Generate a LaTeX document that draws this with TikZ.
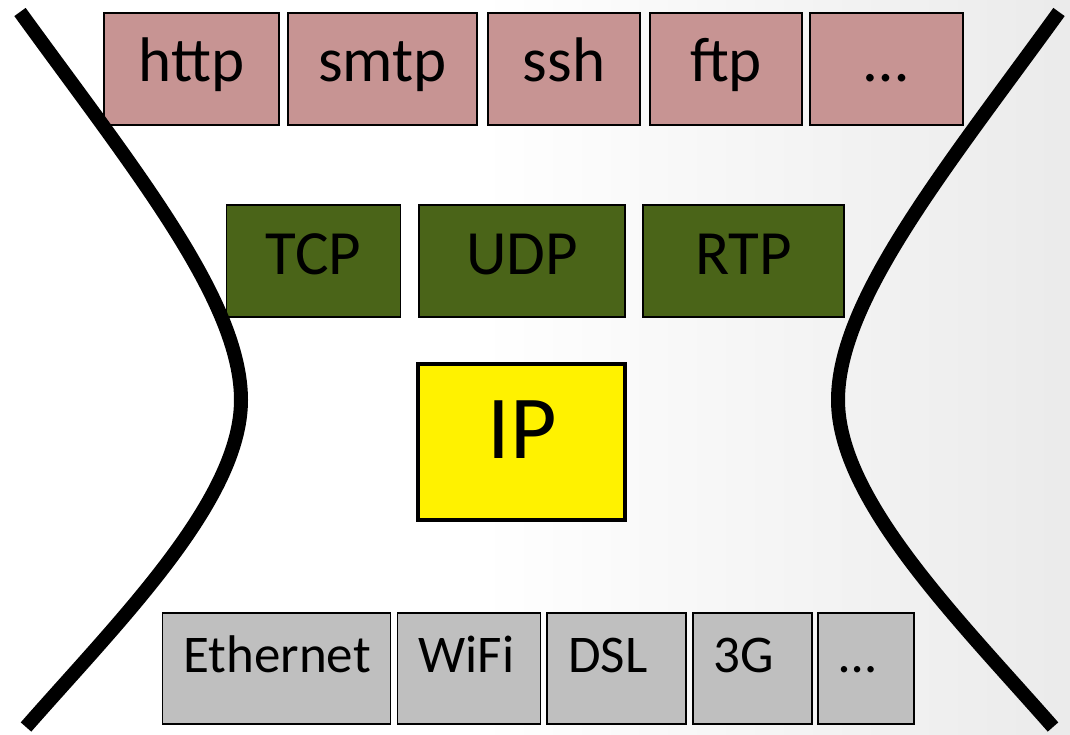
\documentclass[tikz,border=0pt]{standalone}
\usepackage{fontspec}
\setmainfont{Carlito}
\definecolor{appc}{HTML}{C79493}
\definecolor{tcpc}{HTML}{4A6418}
\definecolor{linkc}{HTML}{BFBFBF}
\begin{document}
\begin{tikzpicture}[x=1pt,y=-1pt,
  box/.style={draw=black, line width=1.6pt, inner sep=0pt, text height=40pt, text depth=14pt, font=\fontsize{63}{63}\selectfont},
  app/.style={box, fill=appc, minimum height=112pt},
  tl/.style={box, fill=tcpc, minimum height=112pt},
  ipbox/.style={draw=black, line width=4pt, fill=yellow, inner sep=0pt, minimum width=207pt, minimum height=156pt, font=\fontsize{90}{90}\selectfont, text height=60pt, text depth=27pt},
  link/.style={box, fill=linkc, minimum height=111pt, inner xsep=21pt, align=left, text height=36pt, text depth=28pt, font=\fontsize{53}{53}\selectfont},
  waist/.style={line width=14pt, black, line cap=butt}
]
\useasboundingbox (0,0) rectangle (1070,735);
\fill[white] (0,0) rectangle (1070,735);
\shade[left color=white, right color=black!8] (480,0) rectangle (1070,735);

% application layer
\node[app, minimum width=175pt] (http) at (191.5,69) {http};
\node[app, minimum width=189pt] (smtp) at (382.5,69) {smtp};
\node[app, minimum width=152pt] (ssh)  at (564,69) {ssh};
\node[app, minimum width=152pt] (ftp)  at (726,69) {ftp};
\node[app, minimum width=153pt] (appm) at (886.5,69) {…};

% transport layer
\node[tl, minimum width=174pt] (tcp) at (313.5,261) {TCP};
\node[tl, minimum width=206pt] (udp) at (522,261) {UDP};
\node[tl, minimum width=201pt] (rtp) at (743.5,261) {RTP};

% network layer
\node[ipbox] (ip) at (521.9,442.4) {IP};

% link layer
\node[link, text width=186pt] (eth)  at (276.4,668.7) {Ethernet};
\node[link, text width=101pt] (wifi) at (469,668.7) {WiFi};
\node[link, text width=97pt]  (dsl)  at (616.7,668.7) {DSL};
\node[link, text width=77pt]  (g3)   at (752.2,668.7) {3G};
\node[link, text width=54pt]  (linkm) at (866.2,668.7) {…};

% hourglass waist
\coordinate (lt) at (20,12);
\coordinate (lv) at (241,400);
\coordinate (lb) at (26,727);
\draw[waist] (lt) .. controls (133,168) and (241,300) .. (lv)
                  .. controls (241,500) and (120,620) .. (lb);
\begin{scope}[shift={(1079,0)}, xscale=-1]
\coordinate (rt) at (20,12);
\coordinate (rv) at (241,400);
\coordinate (rb) at (26,727);
\draw[waist] (rt) .. controls (133,168) and (241,300) .. (rv)
                  .. controls (241,500) and (120,620) .. (rb);
\end{scope}
\end{tikzpicture}
\end{document}
